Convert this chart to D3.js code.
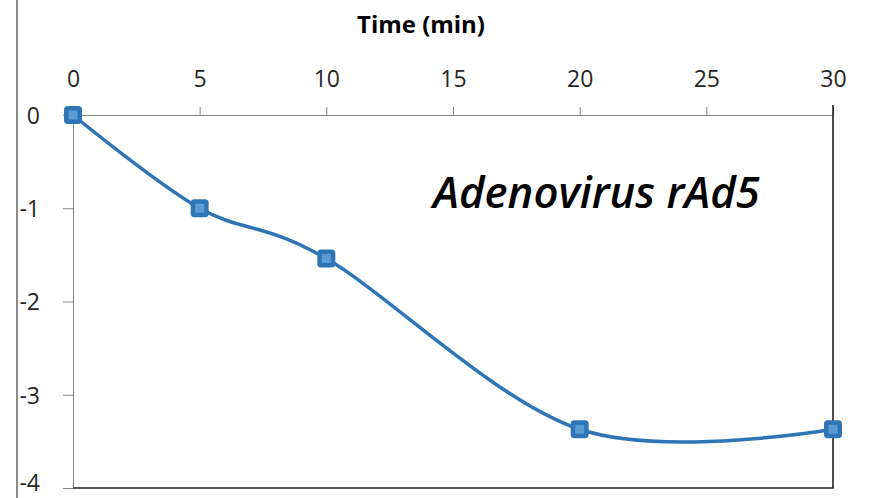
<!DOCTYPE html>
<html><head><meta charset="utf-8">
<script src="https://cdn.jsdelivr.net/npm/d3@7"></script>
<style>body{margin:0;background:#fff;overflow:hidden}</style>
</head><body>
<svg id="chart" width="869" height="498"></svg>
<script>
// ---- data ----
const times = [0, 5, 10, 20, 30];
const values = [0, -1, -1.54, -3.37, -3.37];
const xTicks = [0, 5, 10, 15, 20, 25, 30];
const yTicks = [0, -1, -2, -3, -4];
const xTitle = "Time (min)";
const annotation = "Adenovirus rAd5";

const svg = d3.select("#chart");
const font = "'Open Sans', 'Liberation Sans', sans-serif";

const x = d3.scaleLinear().domain([0, 30]).range([73, 833]);
const y = d3.scaleLinear().domain([0, -4]).range([115, 488]);

// left vertical grey frame line
svg.append("line").attr("x1", 17).attr("x2", 17).attr("y1", 0).attr("y2", 498)
  .attr("stroke", "#8a8a8a").attr("stroke-width", 2);

// top axis
const gx = svg.append("g").attr("transform", `translate(0,${y(0)})`)
  .call(d3.axisTop(x).tickValues(xTicks).tickSize(8).tickSizeOuter(0).tickPadding(20).tickFormat(d => String(d)));
gx.selectAll("path").attr("stroke", "#868686");
gx.selectAll("line").attr("stroke", "#868686");
gx.selectAll("text").attr("font-family", font).attr("font-size", 23).attr("fill", "#262626");

// left axis
const gy = svg.append("g").attr("transform", `translate(${x(0)},0)`)
  .call(d3.axisLeft(y).tickValues(yTicks).tickSize(10).tickSizeOuter(0).tickPadding(23).tickFormat(d => String(d)));
gy.selectAll("path").attr("stroke", "#868686");
gy.selectAll("line").attr("stroke", "#868686");
gy.selectAll("text").attr("font-family", font).attr("font-size", 23).attr("fill", "#262626")
  .attr("dy", d => d === -4 ? "0.1em" : "0.36em");

// right and bottom border
svg.append("path")
  .attr("d", `M${x(30)},${y(0) - 10}V${y(-4)}H${x(0)}`)
  .attr("fill", "none").attr("stroke", "#222").attr("stroke-width", 1.6);

// title
const t = svg.append("text").attr("x", 421).attr("y", 33).attr("text-anchor", "middle")
  .attr("font-family", font).attr("font-weight", "bold").attr("font-size", 24).attr("fill", "#000")
  .text(xTitle);
{
  const w = t.node().getComputedTextLength();
  t.attr("font-size", 24 * 128 / w);
}

// annotation
const a = svg.append("text").attr("x", 433).attr("y", 208)
  .attr("font-family", font).attr("font-weight", 600).attr("font-style", "italic")
  .attr("font-size", 36).attr("fill", "#000").text(annotation);
{
  const w = a.node().getComputedTextLength();
  a.attr("font-size", 36 * 327 / w);
}

// line
const pts = times.map((t, i) => [x(t), y(values[i])]);
svg.append("path").datum(pts)
  .attr("d", d3.line().curve(d3.curveCardinal.tension(0)))
  .attr("fill", "none").attr("stroke", "#2E75B6").attr("stroke-width", 3.5);

// markers
svg.selectAll("rect.m").data(pts).join("rect").attr("class", "m")
  .attr("x", d => d[0] - 6.75).attr("y", d => d[1] - 6.75)
  .attr("width", 13.5).attr("height", 13.5).attr("rx", 1.5)
  .attr("fill", "#5B9BD5").attr("stroke", "#2E75B6").attr("stroke-width", 4.5);
</script>
</body></html>
